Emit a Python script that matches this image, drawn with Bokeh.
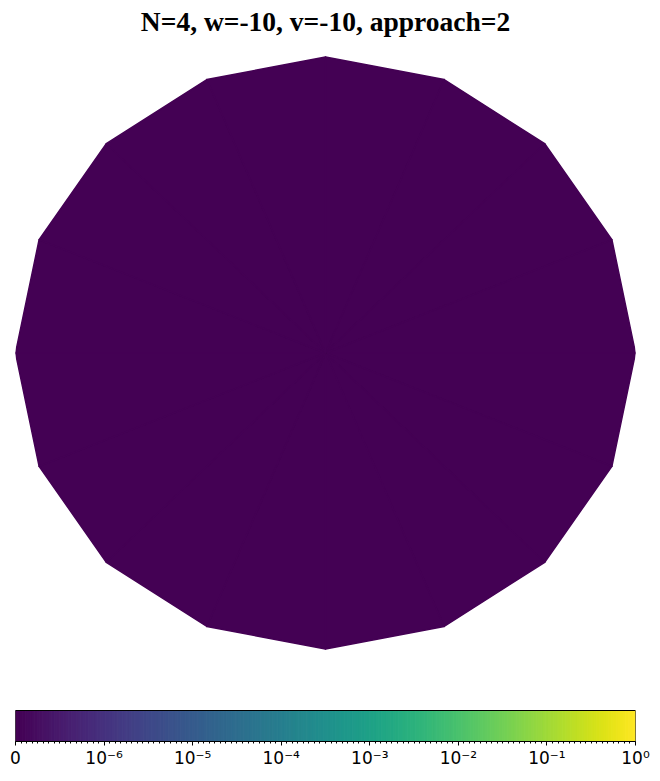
import numpy as np
from bokeh.plotting import figure
from bokeh.models import Range1d, LinearAxis, FixedTicker
from bokeh.palettes import Viridis256
from bokeh.core.properties import value
from bokeh.embed import file_html
from bokeh.resources import INLINE

# ---- data ----
title_text = "N=4, w=-10, v=-10, approach=2"
n_cells = 16
cell_values = [0.0] * 16          # all cells at value 0 (darkest colour)
cb_ticks = [0, 1, 2, 3, 4, 5, 6, 7]
cb_labels = ["0", "10⁻⁶", "10⁻⁵", "10⁻⁴", "10⁻³", "10⁻²", "10⁻¹", "10⁰"]
linthresh = 1e-6

def symlog_pos(v):
    if v <= linthresh:
        return v / linthresh
    return 1.0 + np.log10(v / linthresh)

def color_of(v):
    idx = int(round(symlog_pos(v) / 7.0 * 255))
    return Viridis256[max(0, min(255, idx))]

# ---- layout geometry (pixels) ----
W, H = 660, 781
left, right = 15, 25
top, bottom = 0, 40
fw, fh = W - left - right, H - top - bottom      # frame 620 x 741
cx_px, cy_px = 325, 352.5
ry_px = 296.0
rx_px = 310.0

x0 = -(cx_px - left) / rx_px
x1 = (left + fw - cx_px) / rx_px
y1 = (cy_px - top) / ry_px
y0 = -(top + fh - cy_px) / ry_px

p = figure(width=W, height=H, output_backend="svg", toolbar_location=None,
           x_range=Range1d(x0, x1), y_range=Range1d(y0, y1),
           min_border_left=left, min_border_right=right,
           min_border_top=top, min_border_bottom=bottom)
p.xaxis.visible = False
p.yaxis.visible = False
p.xgrid.visible = False
p.ygrid.visible = False
p.outline_line_color = None
p.background_fill_color = "white"

# polygon made of wedge cells
angles = np.pi / 2 - np.arange(n_cells + 1) * 2 * np.pi / n_cells
xs, ys, cols = [], [], []
for i, v in enumerate(cell_values):
    xs.append([0.0, np.cos(angles[i]), np.cos(angles[i + 1])])
    ys.append([0.0, np.sin(angles[i]), np.sin(angles[i + 1])])
    cols.append(color_of(v))
p.patches(xs, ys, fill_color=cols, line_color=cols, line_width=1.5,
          line_join="round")

# title
p.text(x=[(325 - cx_px) / rx_px], y=[(cy_px - 21) / ry_px], text=[title_text],
       text_font=value("Liberation Serif"), text_font_style="bold",
       text_font_size="27.5px", text_align="center", text_baseline="middle",
       text_color="black")

# colorbar
p.extra_x_ranges = {"cb": Range1d(0, 7)}
cb_top = -(710 - cy_px) / ry_px
cb_bot = y0
nseg = 256
edges = np.linspace(0, 7, nseg + 1)
p.quad(left=edges[:-1], right=edges[1:], bottom=cb_bot, top=cb_top,
       fill_color=list(Viridis256), line_color=list(Viridis256), line_width=1,
       x_range_name="cb")
p.quad(left=[0], right=[7], bottom=[cb_bot], top=[cb_top], fill_color=None,
       line_color="black", line_width=1, x_range_name="cb")

ax = LinearAxis(x_range_name="cb")
ax.ticker = FixedTicker(ticks=cb_ticks,
                        minor_ticks=list(np.linspace(0, 7, 7 * 16 + 1)))
ax.major_label_overrides = {t: l for t, l in zip(cb_ticks, cb_labels)}
ax.major_label_text_font = "DejaVu Sans"
ax.major_label_text_font_size = "17px"
ax.major_label_text_color = "black"
ax.major_tick_out = 4
ax.major_tick_in = 0
ax.minor_tick_out = 2
ax.minor_tick_in = 0
ax.axis_line_color = "black"
ax.major_label_standoff = 2
p.add_layout(ax, "below")

open("out.html", "w").write(file_html(p, INLINE))
